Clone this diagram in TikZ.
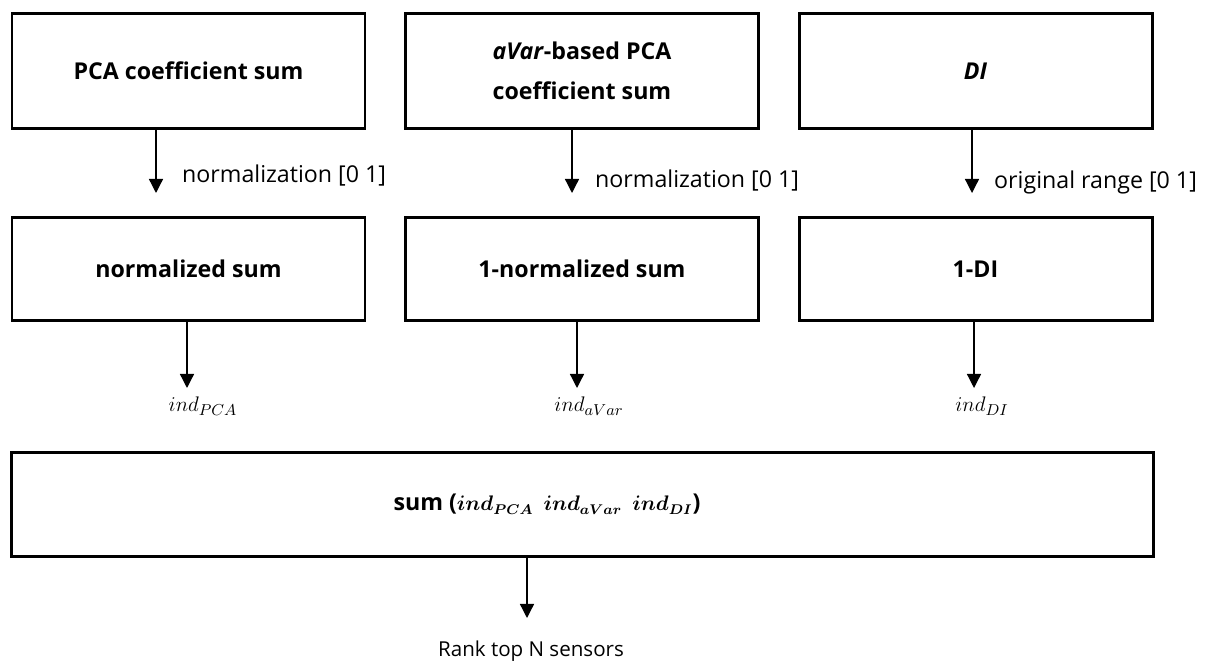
\documentclass[tikz,border=0pt]{standalone}
\usepackage{fontspec}
\usepackage{bm}
\setmainfont{Open Sans}
\usetikzlibrary{arrows.meta}
\begin{document}
\begin{tikzpicture}[x=1cm,y=1cm,font=\fontsize{13.2}{15}\selectfont]
  \definecolor{ink}{HTML}{000000}
  \tikzset{
    frame/.style={draw=ink,line width=1.7pt,minimum width=7.06cm,inner sep=2pt,
      font=\bfseries\fontsize{13.2}{22.8}\selectfont},
    box/.style={frame,align=center},
    flow/.style={ink,line width=0.75pt,-{Triangle[width=0.28cm,length=0.28cm]}},
    note/.style={anchor=base west,text=ink},
    index/.style={anchor=base,text=ink,font=\fontsize{12.5}{14}\selectfont}
  }
  % first row
  \node[box,minimum height=2.30cm] (pcasum) at (3.77,11.86) {PCA coefficient sum};
  \node[box,minimum height=2.30cm] (avarsum) at (11.64,11.86) {\textit{aVar}-based PCA\\coefficient sum};
  \node[box,minimum height=2.30cm] (disum) at (19.51,11.86) {\textit{DI}};
  % second row
  \node[box,minimum height=2.06cm] (pcanorm) at (3.77,7.90) {normalized sum};
  \node[box,minimum height=2.06cm] (avarnorm) at (11.64,7.90) {1-normalized sum};
  \node[box,minimum height=2.06cm] (dinorm) at (19.51,7.90) {1-DI};
  % sum
  \node[frame,minimum width=22.84cm,minimum height=2.08cm] (total) at (11.65,3.19)
    {sum ({\fontsize{11.5}{13}\selectfont$\bm{ind_{PCA}}\enspace\bm{ind_{aVar}}\enspace\bm{ind_{DI}}$})\rule{1.42cm}{0pt}};
  % arrow ends
  \coordinate (t1) at (3.12,9.42);
  \coordinate (t2) at (11.44,9.42);
  \coordinate (t3) at (19.44,9.42);
  \coordinate (m1) at (3.74,5.52);
  \coordinate (m2) at (11.54,5.52);
  \coordinate (m3) at (19.48,5.52);
  \coordinate (b1) at (10.54,0.92);
  \foreach \s/\e in {pcasum/t1,avarsum/t2,disum/t3,pcanorm/m1,avarnorm/m2,dinorm/m3,total/b1}{
    \draw[flow] (\s.south -| \e) -- (\e);
  }
  \node[note] (n1) at (3.52,9.62) {normalization [0 1]};
  \node[note] (n2) at (11.78,9.52) {normalization [0 1]};
  \node[note] (n3) at (19.76,9.50) {original range [0 1]};
  \node[index] (i1) at (4.06,5.04) {$ind_{PCA}$};
  \node[index] (i2) at (11.78,5.04) {$ind_{aVar}$};
  \node[index] (i3) at (19.64,5.04) {$ind_{DI}$};
  \node[anchor=base,text=ink,font=\fontsize{11.7}{14}\selectfont] (rank) at (10.62,0.14) {Rank top N sensors};
  \path[use as bounding box] (0,0) rectangle (24.28,13.28);
\end{tikzpicture}
\end{document}
